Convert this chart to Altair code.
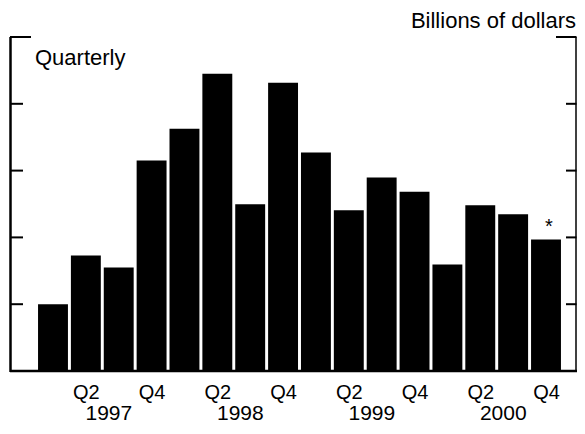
import altair as alt
import pandas as pd

# Data (billions of dollars, quarterly 1997Q1-2000Q4)
quarters = ["1997Q1", "1997Q2", "1997Q3", "1997Q4",
            "1998Q1", "1998Q2", "1998Q3", "1998Q4",
            "1999Q1", "1999Q2", "1999Q3", "1999Q4",
            "2000Q1", "2000Q2", "2000Q3", "2000Q4"]
values = [20.0, 34.6, 31.0, 63.0, 72.5, 89.0, 49.9, 86.3,
          65.4, 48.1, 57.9, 53.7, 31.9, 49.6, 46.9, 39.4]
years = ["1997", "1998", "1999", "2000"]
y_ticks = [20, 40, 60, 80]
y_top = [100]

FONT = "Liberation Sans"
W, H = 567, 334

df = pd.DataFrame({"q": quarters, "value": values, "idx": list(range(len(quarters)))})
ydf = pd.DataFrame({"year": years, "pos": [4 * i + 1.7 for i in range(len(years))]})
tdf = pd.DataFrame({"y": y_ticks})
topdf = pd.DataFrame({"y": y_top})

xscale = alt.Scale(domain=[-1.308, 15.943], nice=False, zero=False)
yscale = alt.Scale(domain=[0, 100], nice=False)

base = alt.Chart(df)

bars = base.mark_bar(color="black").transform_calculate(
    x0="datum.idx - 0.455", x1="datum.idx + 0.455"
).encode(
    x=alt.X("x0:Q", scale=xscale,
            axis=alt.Axis(values=[1, 3, 5, 7, 9, 11, 13, 15],
                          labelExpr="datum.value % 4 == 1 ? 'Q2' : 'Q4'",
                          domain=False, ticks=False, tickSize=0, grid=False,
                          labelFont=FONT, labelFontSize=20, labelColor="black",
                          labelBaseline="alphabetic",
                          labelPadding=27, title=None, labelFlush=False)),
    x2="x1:Q",
    y=alt.Y("value:Q", scale=yscale, axis=None),
    y2=alt.datum(0),
)

star = base.transform_filter("datum.idx == 15").mark_text(
    text="*", font=FONT, fontSize=20, dx=3, dy=-12, color="black"
).encode(x=alt.X("idx:Q", scale=xscale), y=alt.Y("value:Q", scale=yscale))

year_text = alt.Chart(ydf).mark_text(
    font=FONT, fontSize=21, baseline="alphabetic", color="black"
).encode(x=alt.X("pos:Q", scale=xscale), y=alt.value(H + 49), text="year:N")

left_ticks = alt.Chart(tdf).mark_rule(color="black", strokeWidth=2).encode(
    y=alt.Y("y:Q", scale=yscale), x=alt.value(0), x2=alt.value(13))
right_ticks = alt.Chart(tdf).mark_rule(color="black", strokeWidth=2).encode(
    y=alt.Y("y:Q", scale=yscale), x=alt.value(W - 0.5), x2=alt.value(W - 11))
left_top = alt.Chart(topdf).mark_rule(color="black", strokeWidth=2).encode(
    y=alt.Y("y:Q", scale=yscale), x=alt.value(0), x2=alt.value(21))
right_top = alt.Chart(topdf).mark_rule(color="black", strokeWidth=2).encode(
    y=alt.Y("y:Q", scale=yscale), x=alt.value(W - 0.5), x2=alt.value(W - 21))

left_line = alt.Chart(topdf).mark_rule(color="black", strokeWidth=2.5).encode(
    x=alt.value(0.5), y=alt.value(0), y2=alt.value(H + 1))
right_line = alt.Chart(topdf).mark_rule(color="black", strokeWidth=1.5).encode(
    x=alt.value(W - 1), y=alt.value(0), y2=alt.value(H + 1))
baseline = alt.Chart(topdf).mark_rule(color="black", strokeWidth=2.5).encode(
    y=alt.value(H), x=alt.value(0), x2=alt.value(W))

units = alt.Chart(topdf).mark_text(
    text="Billions of dollars", font=FONT, fontSize=22, align="right",
    baseline="alphabetic", color="black"
).encode(x=alt.value(W - 1), y=alt.value(-9))

quarterly = alt.Chart(topdf).mark_text(
    text="Quarterly", font=FONT, fontSize=22, align="left",
    baseline="alphabetic", color="black"
).encode(x=alt.value(25), y=alt.value(28))

chart = alt.layer(
    bars, star, year_text, left_ticks, right_ticks, left_top, right_top,
    left_line, right_line, baseline, units, quarterly
).properties(
    width=W, height=H,
    autosize=alt.AutoSizeParams(type="none"),
    padding={"left": 2, "top": 29, "right": 0, "bottom": 55},
).configure_view(stroke=None)

chart.save("out.html", embed_options={"renderer": "svg", "actions": False})
